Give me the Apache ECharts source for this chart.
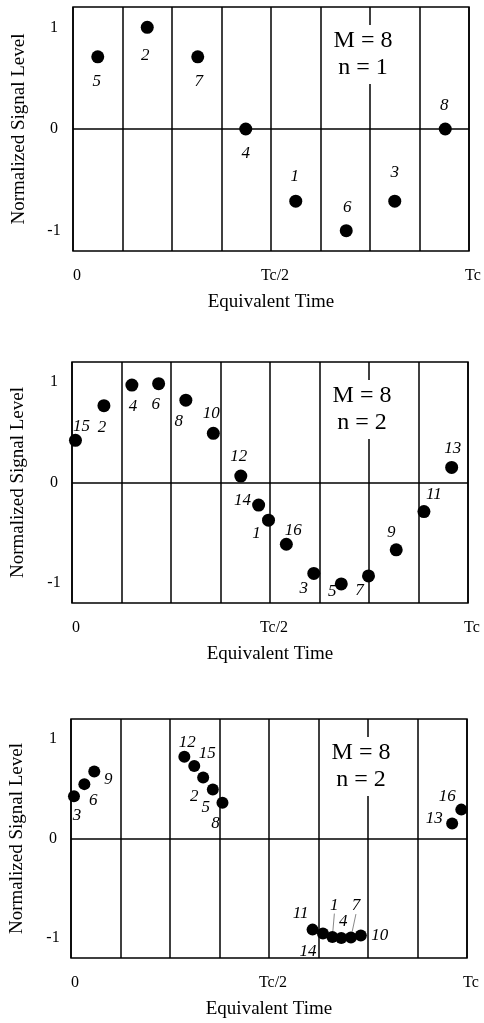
<!DOCTYPE html>
<html>
<head>
<meta charset="utf-8">
<script src="https://cdn.jsdelivr.net/npm/echarts@6/dist/echarts.min.js"></script>
<style>
html,body{margin:0;padding:0;background:#fff;}
#main{width:484px;height:1023px;}
</style>
</head>
<body>
<div id="main"></div>
<script>
// ---- data ----
const xTickValues = [0, 4, 8];
const xTickLabels = ['0', 'Tc/2', 'Tc'];
const yTickValues = [-1, 0, 1];
const yTickLabels = ['-1', '0', '1'];
const panelTitles = ['M = 8\nn = 1', 'M = 8\nn = 2', 'M = 8\nn = 2'];

// panel 1
const p1X = [0.5, 1.5, 2.52, 3.49, 4.5, 5.52, 6.5, 7.52];
const p1Y = [0.71, 1.0, 0.71, 0.0, -0.71, -1.0, -0.71, 0.0];
const p1Labels = ['5', '2', '7', '4', '1', '6', '3', '8'];

// panel 2
const p2X = [0.07, 0.645, 1.21, 1.75, 2.30, 2.855, 3.41, 3.77, 3.97, 4.33, 4.885, 5.44, 5.99, 6.55, 7.11, 7.67];
const p2Y = [0.42, 0.765, 0.97, 0.984, 0.82, 0.49, 0.064, -0.225, -0.375, -0.615, -0.905, -1.01, -0.93, -0.67, -0.29, 0.15];
const p2Labels = ['15', '2', '4', '6', '8', '10', '12', '14', '1', '16', '3', '5', '7', '9', '11', '13'];

// panel 3
const p3X = [0.06, 0.27, 0.47, 2.29, 2.49, 2.67, 2.865, 3.06, 4.88, 5.09, 5.28, 5.46, 5.655, 5.855, 7.70, 7.885];
const p3Y = [0.425, 0.546, 0.673, 0.82, 0.727, 0.613, 0.492, 0.358, -0.915, -0.955, -0.99, -1.0, -0.995, -0.975, 0.15, 0.29];
const p3Labels = ['3', '6', '9', '12', '15', '2', '5', '8', '11', '14', '1', '4', '7', '10', '13', '16'];
const p3Leader = ['1', '7'];

// ---- label placement (pixels, layout only) ----
const p1LabelOffsets = [[-1,25],[-2,28],[1,25],[0,25],[-1,-25],[1,-23],[0,-29],[-1,-23]];
const p2LabelOffsets = [[6,-14],[-2,22],[1,21],[-3,21],[-7,21],[-2,-20],[-2,-20],[-16,-5],[-12,13],[7,-14],[-10,15],[-9,8],[-9,15],[-5,-17],[10,-17],[1,-19]];
const p3LabelOffsets = [[3,19],[9,16],[14,8],[3,-14],[13,-13],[-9,19],[-7,18],[-7,21],[-12,-16],[-15,18],[2,-32],[2,-17],[5,-32],[19,0],[-18,-5],[-14,-13]];

const FONT = '"Liberation Serif", "Times New Roman", serif';
const grids = [
  {left: 73, top: 7, width: 396, height: 244},
  {left: 72, top: 362, width: 396, height: 241},
  {left: 71, top: 719, width: 396, height: 239}
];

function xAxisFor(i) {
  return {
    type: 'value', gridIndex: i, min: 0, max: 8, interval: 1,
    name: 'Equivalent Time', nameLocation: 'middle', nameGap: 42,
    nameTextStyle: {fontFamily: FONT, fontSize: 19, color: '#000'},
    axisLine: {show: false}, axisTick: {show: false},
    axisLabel: {
      fontFamily: FONT, fontSize: 16, color: '#000', margin: 17,
      padding: [0, 0, 0, 8],
      formatter: v => { const k = xTickValues.indexOf(v); return k >= 0 ? xTickLabels[k] : ''; }
    },
    splitLine: {show: true, lineStyle: {color: '#000', width: 1.5}}
  };
}
function yAxisFor(i) {
  return {
    type: 'value', gridIndex: i, min: -1.2, max: 1.2,
    name: 'Normalized Signal Level', nameLocation: 'middle', nameGap: 44,
    nameTextStyle: {fontFamily: FONT, fontSize: 19, color: '#000'},
    axisLine: {show: false}, axisTick: {show: false},
    axisLabel: {
      fontFamily: FONT, fontSize: 16, color: '#000', margin: 18 + (i === 0 ? 1 : 0) - (i === 2 ? 0 : 0),
      align: 'center',
      customValues: yTickValues,
      formatter: v => { const k = yTickValues.indexOf(Math.round(v * 1000) / 1000); return k >= 0 ? yTickLabels[k] : ''; }
    },
    splitLine: {show: false}
  };
}

function makeData(xs, ys, labels, offs, useLayout, leaders) {
  return xs.map((x, k) => {
    const item = {
      value: [x, ys[k]],
      label: {formatter: labels[k]}
    };
    if (!useLayout) item.label.offset = offs[k];
    if (leaders && leaders.indexOf(labels[k]) >= 0) {
      item.labelLine = {show: true, lineStyle: {color: '#888', width: 1}};
    }
    return item;
  });
}

function seriesFor(i, data, size, layoutOffs) {
  const s = {
    type: 'scatter', xAxisIndex: i, yAxisIndex: i,
    symbol: 'circle', symbolSize: size,
    itemStyle: {color: '#000', opacity: 1},
    label: {
      show: true, position: 'inside', color: '#000',
      fontFamily: FONT, fontStyle: 'italic', fontSize: 17
    },
    emphasis: {disabled: true},
    silent: true,
    data: data,
    markLine: {
      silent: true, symbol: 'none', animation: false,
      label: {show: false},
      lineStyle: {color: '#000', width: 1.5, type: 'solid'},
      emphasis: {disabled: true},
      data: [{yAxis: 0}]
    }
  };
  if (layoutOffs) {
    s.labelLayout = p => ({dx: layoutOffs[p.dataIndex][0], dy: layoutOffs[p.dataIndex][1]});
    s.labelLine = {show: false, lineStyle: {color: '#888', width: 1}};
  }
  return s;
}

const graphics = [];
grids.forEach((g, i) => {
  graphics.push({
    type: 'rect', z: 100,
    shape: {x: g.left + 254, y: g.top + 18, width: 76, height: 59},
    style: {fill: '#fff'}
  });
  graphics.push({
    type: 'text', z: 101,
    style: {
      text: panelTitles[i], x: g.left + 290, y: g.top + 47,
      fill: '#000', font: '24px ' + FONT,
      textAlign: 'center', textVerticalAlign: 'middle', lineHeight: 27
    }
  });
});

const chart = echarts.init(document.getElementById('main'), null, {renderer: 'canvas'});
chart.setOption({
  animation: false,
  backgroundColor: '#fff',
  textStyle: {fontFamily: FONT},
  grid: grids.map(g => Object.assign({show: true, borderColor: '#000', borderWidth: 1.5, backgroundColor: 'transparent'}, g)),
  xAxis: [0, 1, 2].map(xAxisFor),
  yAxis: [0, 1, 2].map(yAxisFor),
  series: [
    seriesFor(0, makeData(p1X, p1Y, p1Labels, p1LabelOffsets, false), 13),
    seriesFor(1, makeData(p2X, p2Y, p2Labels, p2LabelOffsets, false), 13),
    seriesFor(2, makeData(p3X, p3Y, p3Labels, p3LabelOffsets, true, p3Leader), 12, p3LabelOffsets)
  ],
  graphic: graphics
});
</script>
</body>
</html>
